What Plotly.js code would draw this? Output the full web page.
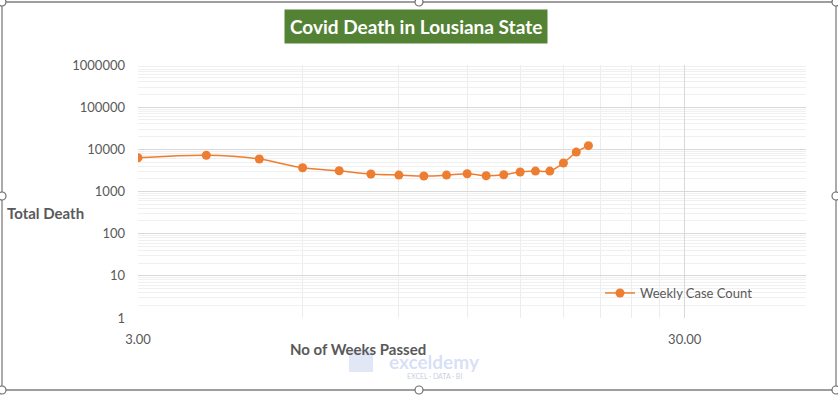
<!DOCTYPE html>
<html>
<head>
<meta charset="utf-8">
<script src="https://cdn.plot.ly/plotly-3.0.1.min.js"></script>
<style>html,body{margin:0;padding:0;background:#fff;}#chart{width:838px;height:395px;}</style>
</head>
<body>
<div id="chart"></div>
<script>
// Data
const weeks = [3, 4, 5, 6, 7, 8, 9, 10, 11, 12, 13, 14, 15, 16, 17, 18, 19, 20];
const totalDeath = [6300, 7200, 5900, 3650, 3100, 2600, 2450, 2330, 2450, 2640, 2370, 2500, 2900, 3050, 3050, 4750, 8600, 12200];
const seriesName = "Weekly Case Count";
const xTickVals = [3, 30];
const xTickText = ["3.00", "30.00"];
const yTickVals = [1, 10, 100, 1000, 10000, 100000, 1000000];
const yTickText = ["1", "10", "100", "1000", "10000", "100000", "1000000"];

// styling helpers (gridline positions)
const xMinor = [6, 9, 12, 15, 18, 21, 24, 27];
const yMinor = [];
for (let d = 1; d < 1000000; d *= 10) for (let k = 2; k <= 9; k++) yMinor.push(k * d);

const W = 838, H = 395, L = 138, R = 806, T = 65, B = 318;
const px = x => (x - L) / (R - L);
const py = y => (B - y) / (B - T);

const shapes = [{
  type: 'rect', xref: 'paper', yref: 'paper',
  x0: px(2), x1: px(836), y0: py(2), y1: py(390),
  line: {color: '#7f7f7f', width: 1.3}, fillcolor: 'rgba(0,0,0,0)', layer: 'above'
}];
const handles = [[2,2],[419,2],[836,2],[2,196],[836,196],[2,390],[419,390],[836,390]];
handles.forEach(([hx, hy]) => {
  const r = 4;
  shapes.push({type: 'circle', xref: 'paper', yref: 'paper',
    x0: px(hx - r), x1: px(hx + r), y0: py(hy + r), y1: py(hy - r),
    line: {color: '#6f6f6f', width: 1.2}, fillcolor: '#ffffff', layer: 'above'});
});
// watermark logo (decorative)
shapes.push({type: 'rect', xref: 'paper', yref: 'paper',
  x0: px(349), x1: px(373), y0: py(372), y1: py(350),
  line: {width: 0}, fillcolor: 'rgba(170,185,225,0.35)', layer: 'above'});

const trace = {
  x: weeks, y: totalDeath, name: seriesName, type: 'scatter', mode: 'lines+markers',
  line: {color: '#ED7D31', width: 1.5, shape: 'spline', smoothing: 0.8},
  marker: {color: '#ED7D31', size: 9},
  showlegend: true
};

const font = "Lato, 'Open Sans', sans-serif";
const layout = {
  width: W, height: H,
  margin: {l: L, r: W - R, t: T, b: H - B, pad: 0},
  paper_bgcolor: '#ffffff', plot_bgcolor: '#ffffff',
  font: {family: font, color: '#595959', size: 13},
  showlegend: true,
  legend: {x: px(600), y: py(293), xanchor: 'left', yanchor: 'middle', bgcolor: 'rgba(255,255,255,0)',
    font: {size: 13, color: '#595959'}},
  xaxis: {
    type: 'log', range: [Math.log10(3), Math.log10(50)],
    tickmode: 'array', tickvals: xTickVals, ticktext: xTickText,
    showgrid: true, gridcolor: '#d9d9d9', gridwidth: 1,
    zeroline: false, showline: false, ticks: '',
    ticklabelstandoff: 12,
    tickfont: {size: 13, color: '#595959'},
    minor: {tickvals: xMinor, showgrid: true, gridcolor: '#ececec', gridwidth: 1, ticks: ''}
  },
  yaxis: {
    type: 'log', range: [0, 6],
    tickmode: 'array', tickvals: yTickVals, ticktext: yTickText,
    showgrid: true, gridcolor: '#d9d9d9', gridwidth: 1,
    zeroline: false, showline: false, ticks: '',
    ticklabelstandoff: 12,
    tickfont: {size: 13, color: '#595959'},
    minor: {tickvals: yMinor, showgrid: true, gridcolor: '#f0f0f0', gridwidth: 1, ticks: ''}
  },
  annotations: [
    {text: '<b>Covid Death in Lousiana State</b>', xref: 'paper', yref: 'paper',
     x: px(415.5), y: py(26), xanchor: 'center', yanchor: 'middle', showarrow: false,
     font: {size: 19, color: '#ffffff', family: font}, bgcolor: '#548235', borderpad: 5},
    {text: '<b>Total Death</b>', xref: 'paper', yref: 'paper',
     x: px(5), y: py(213), xanchor: 'left', yanchor: 'middle', showarrow: false,
     font: {size: 15, color: '#595959'}},
    {text: '<b>No of Weeks Passed</b>', xref: 'paper', yref: 'paper',
     x: px(358), y: py(349), xanchor: 'center', yanchor: 'middle', showarrow: false,
     font: {size: 15, color: '#595959'}},
    {text: '<b>exceldemy</b>', xref: 'paper', yref: 'paper',
     x: px(434), y: py(361), xanchor: 'center', yanchor: 'middle', showarrow: false,
     font: {size: 19, color: 'rgba(165,185,235,0.45)'}},
    {text: 'EXCEL · DATA · BI', xref: 'paper', yref: 'paper',
     x: px(434), y: py(376), xanchor: 'center', yanchor: 'middle', showarrow: false,
     font: {size: 7, color: 'rgba(160,170,200,0.6)'}}
  ],
  shapes: shapes
};

Plotly.newPlot('chart', [trace], layout, {displayModeBar: false, staticPlot: true});
</script>
</body>
</html>
